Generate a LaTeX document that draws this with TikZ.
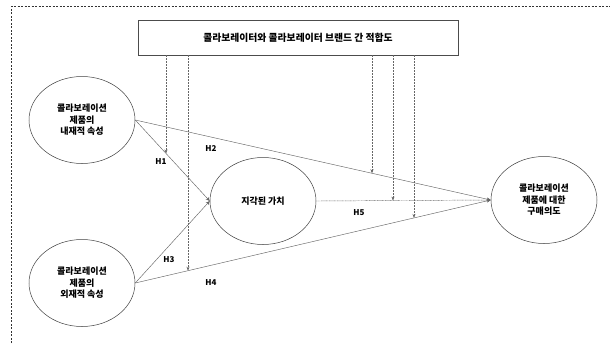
\documentclass[tikz,border=0pt]{standalone}
\usepackage{fontspec}
\setmainfont{Noto Sans CJK KR}
\usetikzlibrary{arrows.meta,calc,shapes.geometric}
\begin{document}
\begin{tikzpicture}[x=1pt,y=-1pt,
  fac/.style={draw=black!75, line width=0.5pt, ellipse, minimum width=106pt, minimum height=87pt,
    inner sep=0pt, align=center, font=\bfseries\fontsize{9}{11.5}\selectfont},
  fitbox/.style={draw=black!70, line width=0.5pt, minimum width=320pt, minimum height=35pt,
    inner sep=0pt, font=\bfseries\fontsize{9.8}{12}\selectfont},
  conn/.style={draw=black!60, line width=0.45pt, -{Stealth[length=4pt,width=3.5pt]}},
  modr/.style={draw=black!60, line width=0.4pt, dash pattern=on 2pt off 1pt, -{Stealth[length=4pt,width=3pt]}},
  hlab/.style={font=\bfseries\fontsize{8}{9}\selectfont, inner sep=0pt},
  frame/.style={draw=black!80, line width=0.5pt, dash pattern=on 2pt off 1.5pt}
]
\useasboundingbox (0,0) rectangle (610,343);
\draw[frame] (11.5,343) -- (11.5,6) -- (610,6);

\node[fitbox] (fit) at (298,37.5) {콜라보레이터와 콜라보레이터 브랜드 간 적합도};
\node[fac] (lt) at (82,120) {콜라보레이션\\제품의\\내재적 속성};
\node[fac] (lb) at (82,283) {콜라보레이션\\제품의\\외재적 속성};
\node[fac] (mid) at (263,201) {지각된 가치};
\node[fac] (rt) at (544,200) {콜라보레이션\\제품에 대한\\구매의도};

\draw[conn] (lt.east) -- (mid.west);
\draw[conn] (lt.east) -- (rt.west);
\draw[conn] (lb.east) -- (mid.west);
\draw[conn] (lb.east) -- (rt.west);
\draw[conn, dash pattern=on 1pt off 0.6pt] (mid.east) -- (rt.west);

\coordinate (m1) at (intersection of 166,0--166,300 and lt.east--mid.west);
\coordinate (m2) at (intersection of 188,0--188,300 and lb.east--rt.west);
\coordinate (m3) at (intersection of 372,0--372,300 and lt.east--rt.west);
\coordinate (m4) at (intersection of 393,0--393,300 and mid.east--rt.west);
\coordinate (m5) at (intersection of 414,0--414,300 and lb.east--rt.west);

\foreach \m in {m1,m2,m3,m4,m5}
  \draw[modr] (fit.south -| \m) -- (\m);

\node[hlab] (h1) at (161,162) {H1};
\node[hlab] (h2) at (211,149) {H2};
\node[hlab] (h3) at (169,260) {H3};
\node[hlab] (h4) at (211,283) {H4};
\node[hlab] (h5) at (359,213) {H5};
\end{tikzpicture}
\end{document}
